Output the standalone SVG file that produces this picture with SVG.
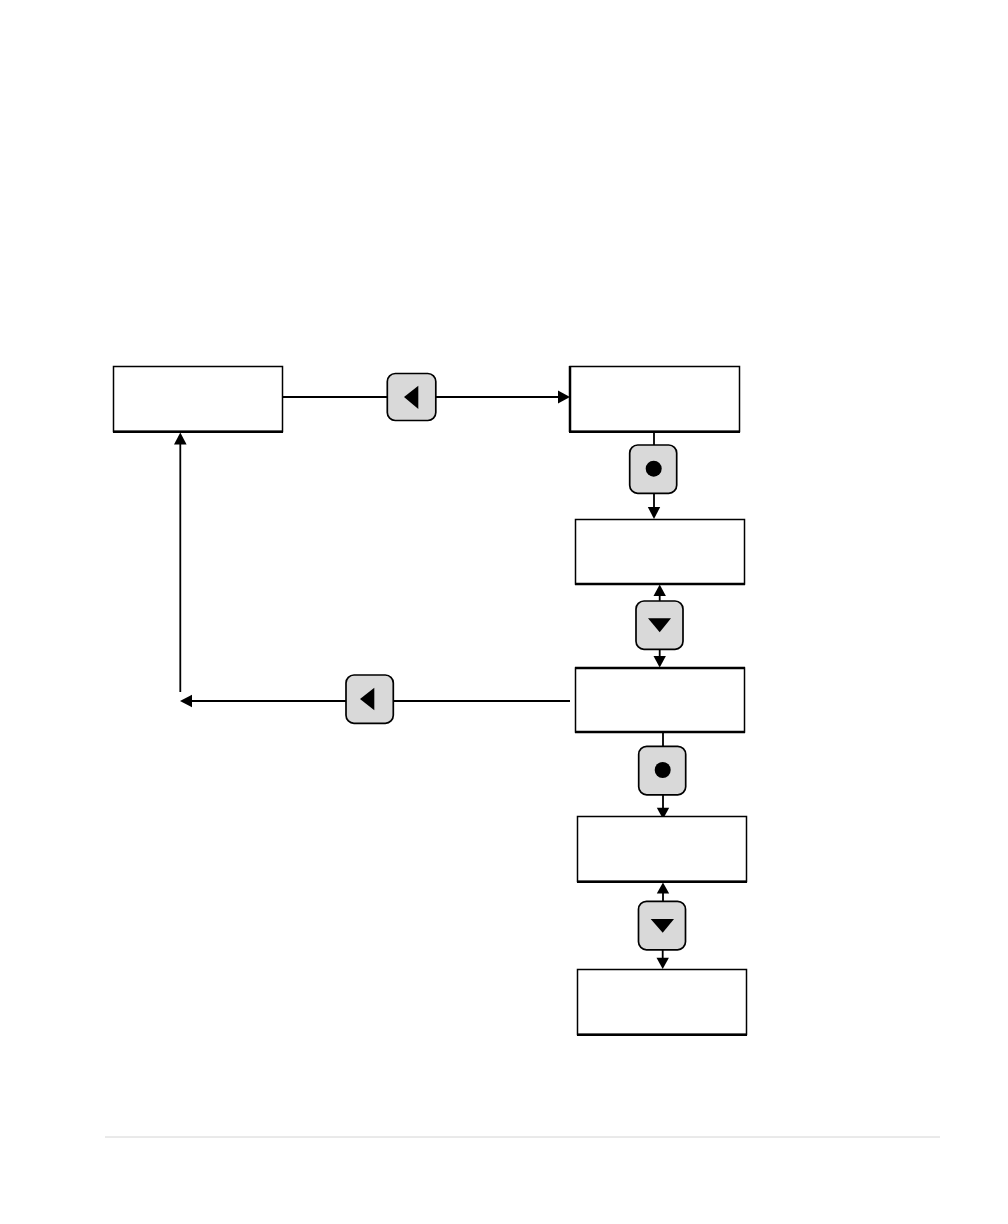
<svg xmlns="http://www.w3.org/2000/svg" width="1008" height="1224" viewBox="0 0 1008 1224">
<style>
.box{fill:#fff;stroke:#000;stroke-width:1.5}
.edge{fill:none;stroke:#000;stroke-width:2.5}
.btn{fill:#d9d9d9;stroke:#000;stroke-width:1.7}
.line{fill:none;stroke:#000;stroke-width:1.8}
.head{fill:#000;stroke:none}
</style>
<rect width="1008" height="1224" fill="#fff"/>
<line id="footer-rule" x1="105" y1="1137" x2="940" y2="1137" stroke="#d4d4d4" stroke-width="1"/>
<g id="connectors">
<path class="line" d="M283 397H387M436 397H559"/><path class="head" d="M570 397L558 390.500V403.500Z"/>
<path class="line" d="M654 432V445M654 493V508"/><path class="head" d="M654 519L647.800 507H660.200Z"/>
<path class="line" d="M659.700 596V601M659.700 649V657"/><path class="head" d="M659.700 584.500L653.500 596H665.900Z"/><path class="head" d="M659.700 667.500L653.500 656H665.900Z"/>
<path class="line" d="M570 701H393M346 701H191"/><path class="head" d="M180 701L192 694.800V707.200Z"/>
<path class="line" d="M180.300 692V443"/><path class="head" d="M180.300 432.500L174 444.500H186.600Z"/>
<path class="line" d="M663 732V746M663 795V808"/><path class="head" d="M663 819L656.800 807.700H669.200Z"/>
<path class="line" d="M663 893V901M662.700 950V958"/><path class="head" d="M663 882.500L656.800 893.500H669.200Z"/><path class="head" d="M662.700 969L656.500 957.700H668.900Z"/>
</g>
<g id="node-1"><rect class="box" x="113.500" y="366.500" width="169" height="65"/><path class="edge" d="M113 431.700H283"/></g>
<g id="node-2"><rect class="box" x="570" y="366.500" width="169.500" height="65"/><path class="edge" d="M570 366V432M569 431.700H740"/></g>
<g id="node-3"><rect class="box" x="575.500" y="519.500" width="169" height="64.500"/><path class="edge" d="M575 584H745"/></g>
<g id="node-4"><rect class="box" x="575.500" y="668" width="169" height="64"/><path class="edge" d="M575 668H745M575 732H745"/></g>
<g id="node-5"><rect class="box" x="577.500" y="816.500" width="169" height="65"/><path class="edge" d="M577 881.700H747"/></g>
<g id="node-6"><rect class="box" x="577.500" y="969.500" width="169" height="65"/><path class="edge" d="M577 1034.700H747"/></g>
<g id="button-left-top"><rect class="btn" x="387.300" y="373.500" width="48.500" height="47" rx="8"/><path class="head" d="M404 397L418.300 385.700V409Z"/></g>
<g id="button-enter-top"><rect class="btn" x="629.700" y="445" width="47" height="48.300" rx="8"/><circle class="head" cx="653.700" cy="468.700" r="8"/></g>
<g id="button-down-top"><rect class="btn" x="636" y="601" width="47" height="48.300" rx="8"/><path class="head" d="M648 618.300H671L659.700 632.300Z"/></g>
<g id="button-left-bottom"><rect class="btn" x="346" y="675" width="47.300" height="48.300" rx="8"/><path class="head" d="M360 699L374.300 687.700V710.300Z"/></g>
<g id="button-enter-bottom"><rect class="btn" x="638.700" y="746.300" width="47" height="48.500" rx="8"/><circle class="head" cx="662.700" cy="770" r="8"/></g>
<g id="button-down-bottom"><rect class="btn" x="638.500" y="901.300" width="47" height="48.500" rx="8"/><path class="head" d="M650.700 919H674L662.700 932.700Z"/></g>
</svg>
